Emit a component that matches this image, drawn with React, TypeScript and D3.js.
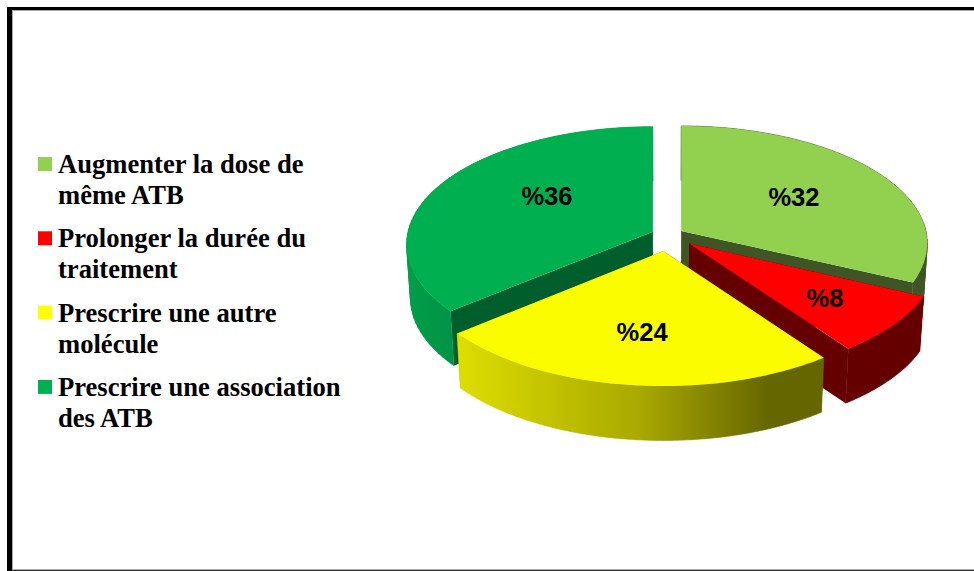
import React from "react";
import * as d3 from "d3";

const categories = [
  ["Augmenter la dose de", "même ATB"],
  ["Prolonger la durée du", "traitement"],
  ["Prescrire une autre", "molécule"],
  ["Prescrire une association", "des ATB"],
];
const values = [32, 8, 24, 36];
const labels = ["%32", "%8", "%24", "%36"];
const topColors = ["#92D050", "#FF0000", "#FCFC00", "#00B050"];
const legendColors = ["#92D050", "#FF0000", "#FFFF00", "#00B050"];
const explode = [0.066, 0.114, 0.137, 0.066];
const labelRadius = [0.563, 0.68, 0.633, 0.547];
const labelTurn = [0, 0, 0, 10];
const drawOrder = [0, 3, 1, 2];

const W = 974, H = 571;
const OX = 667.5, OY = 235, A = 245.6, B = 116.9, K = 0.106, DEPTH = 54.5, SHRINK = 0.985;

const wallColors = ["#3F5526", "#650000", "url(#yellowWall)", "url(#greenWall)"];
const faceColors = ["#3F5526", "#650000", "#666600", "#005E2D"];

type P = [number, number];
const drop = ([x, y]: P): P => [OX + (x - OX) * SHRINK, y + DEPTH];
const line = d3.line<P>();
const pieLayout = d3.pie<number>().sort(null).value((d) => d)(values);

function sliceShapes(i: number) {
  const s = pieLayout[i];
  const mid = (s.startAngle + s.endAngle) / 2;
  const ex = explode[i] * Math.sin(mid), ey = explode[i] * Math.cos(mid);
  const at = (a: number, r = 1): P => {
    const Y = ey + r * Math.cos(a);
    const w = 1 + K * Y;
    return [OX + A * ex + (A * r * Math.sin(a)) / w, OY - (B * Y) / w];
  };
  const angles = d3.range(0, 61).map((t) => s.startAngle + ((s.endAngle - s.startAngle) * t) / 60);
  const rim = angles.map((a) => at(a));
  const apex = at(0, 0);
  const top = line([apex, ...rim])! + "Z";
  const wall = d3
    .pairs(rim)
    .map(([p, q]) => {
      const quad: P[] = [p, q, drop(q), drop(p)];
      if (d3.polygonArea(quad) < 0) quad.reverse();
      return line(quad)! + "Z";
    })
    .join("");
  const f1 = line([apex, rim[0], drop(rim[0]), drop(apex)])! + "Z";
  const f2 = line([apex, rim[60], drop(rim[60]), drop(apex)])! + "Z";
  const lab = at(mid + (labelTurn[i] * Math.PI) / 180, labelRadius[i]);
  return { top, wall, f1, f2, lab };
}

export default function App() {
  return (
    <svg width={W} height={H} style={{ position: "absolute", left: 0, top: 0, background: "#fff" }}>
      <defs>
        <linearGradient id="yellowWall" gradientUnits="userSpaceOnUse" x1={457} x2={824} y1={0} y2={0}>
          <stop offset="0" stopColor="#DEDE00" />
          <stop offset="0.5" stopColor="#A8A800" />
          <stop offset="0.85" stopColor="#666600" />
          <stop offset="1" stopColor="#666600" />
        </linearGradient>
        <linearGradient id="greenWall" gradientUnits="userSpaceOnUse" x1={406} x2={460} y1={0} y2={0}>
          <stop offset="0" stopColor="#009E4A" />
          <stop offset="1" stopColor="#009245" />
        </linearGradient>
      </defs>

      {/* frame */}
      <rect x={12} y={10} width={W} height={1} fill="#aaa" />
      <rect x={12} y={10} width={1} height={H} fill="#aaa" />
      <rect x={12} y={569} width={W} height={1} fill="#aaa" />
      <rect x={12} y={570} width={W} height={1} fill="#333" />
      <rect x={7} y={7} width={W} height={3} fill="#000" />
      <rect x={7} y={7} width={5} height={H} fill="#000" />

      {/* slices */}
      {drawOrder.map((i) => {
        const s = sliceShapes(i);
        return (
          <g key={i}>
            <path d={s.f1} fill={faceColors[i]} />
            <path d={s.f2} fill={faceColors[i]} />
            <path d={s.wall} fill={wallColors[i]} stroke={wallColors[i]} strokeWidth={0.6} />
            <path d={s.top} fill={topColors[i]} />
          </g>
        );
      })}
      {drawOrder.map((i) => {
        const s = sliceShapes(i);
        return (
          <text key={i} x={s.lab[0]} y={s.lab[1]} textAnchor="middle" dominantBaseline="central"
            fontFamily="'Liberation Sans', Arial, sans-serif" fontWeight="bold" fontSize={25.5} fill="#000">
            {labels[i]}
          </text>
        );
      })}

      {/* legend */}
      {categories.map((c, i) => (
        <g key={i}>
          <rect x={38} y={157 + i * 74.3} width={14} height={14} fill={legendColors[i]} />
          {c.map((t, j) => (
            <text key={j} x={58} y={173 + i * 74.3 + j * 31} fontFamily="'Liberation Serif', 'Times New Roman', serif"
              fontWeight="bold" fontSize={26.6} fill="#000">
              {t}
            </text>
          ))}
        </g>
      ))}
    </svg>
  );
}
